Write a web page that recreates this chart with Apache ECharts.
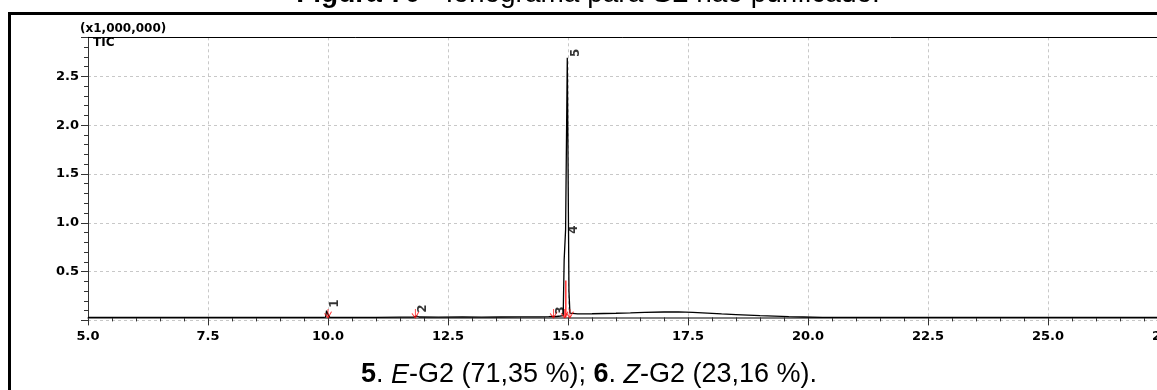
<!DOCTYPE html>
<html>
<head>
<meta charset="utf-8">
<script src="https://cdn.jsdelivr.net/npm/echarts@6/dist/echarts.min.js"></script>
<style>html,body{margin:0;padding:0;background:#fff;}#c{width:1157px;height:390px;}</style>
</head>
<body>
<div id="c"></div>
<script>
// Retention time (min) and TIC intensity (x1,000,000)
var times = [5.0, 6.0, 7.0, 8.0, 9.0, 9.9, 9.95, 9.97, 10.0, 10.04, 10.5, 11.0, 11.5, 11.78, 11.82, 11.85, 11.9, 12.3, 12.8, 13.2, 13.6, 14.0, 14.4, 14.6, 14.68, 14.72, 14.76, 14.84, 14.9, 14.92, 14.935, 14.95, 14.97, 14.985, 15.0, 15.02, 15.04, 15.08, 15.2, 15.5, 16.0, 16.3, 16.6, 17.0, 17.3, 17.6, 18.0, 18.2, 18.5, 19.0, 19.3, 19.6, 19.9, 20.3, 20.6, 22.0, 23.0, 23.5, 24.0, 24.5, 25.0, 27.5];
var tic   = [0.030, 0.030, 0.030, 0.030, 0.030, 0.030, 0.034, 0.100, 0.060, 0.032, 0.030, 0.031, 0.033, 0.034, 0.042, 0.045, 0.035, 0.034, 0.036, 0.034, 0.035, 0.036, 0.037, 0.038, 0.042, 0.045, 0.040, 0.045, 0.050, 0.620, 0.620, 0.930, 0.930, 2.690, 2.690, 0.300, 0.075, 0.066, 0.066, 0.068, 0.073, 0.077, 0.082, 0.086, 0.087, 0.082, 0.072, 0.066, 0.060, 0.048, 0.043, 0.038, 0.035, 0.031, 0.030, 0.030, 0.032, 0.031, 0.032, 0.031, 0.030, 0.030];
var peakNames   = ['1', '2', '3', '4', '5'];
var peakTimes   = [10.0, 11.85, 14.73, 14.96, 15.0];
var peakHeights = [0.10, 0.04, 0.04, 0.93, 2.69];
var markerTimes = [10.0, 11.82, 14.70, 14.93, 15.04];
var xTicks = ['5.0', '7.5', '10.0', '12.5', '15.0', '17.5', '20.0', '22.5', '25.0', '27.5'];
var yTicks = ['0.5', '1.0', '1.5', '2.0', '2.5'];

var lineData = times.map(function (t, i) { return [t, tic[i]]; });
// desired on-screen label shifts [dx, dy]; converted for the 90° rotated label frame
var labelShifts = [[7, -7], [6, -8], [6, -6], [8, 0], [8, -5]];
var peakData = peakTimes.map(function (t, i) {
  var s = labelShifts[i];
  return { value: [t, peakHeights[i]], name: peakNames[i],
           label: { offset: [-s[1], s[0]] } };
});
var markerData = markerTimes.map(function (t) { return [t, 0.03]; });

var axisFont = { fontFamily: 'DejaVu Sans', fontWeight: 'bold', fontSize: 13, color: '#000' };
var chart = echarts.init(document.getElementById('c'));
chart.setOption({
  animation: false,
  backgroundColor: '#fff',
  grid: { left: 88, right: -11, top: 37.3, bottom: 69.6, outerBoundsMode: 'none', containLabel: false },
  xAxis: [{
    type: 'value', min: 5, max: 27.5, interval: 2.5, offset: -3,
    axisLine: { lineStyle: { color: '#555', width: 1.5 } },
    axisTick: { show: true, length: 8, lineStyle: { color: '#333' } },
    minorTick: { show: true, splitNumber: 5, length: 4, lineStyle: { color: '#333' } },
    axisLabel: Object.assign({ margin: 13, formatter: function (v) {
      var s = v.toFixed(1); return xTicks.indexOf(s) >= 0 ? s : ''; } }, axisFont),
    splitLine: { show: true, lineStyle: { color: '#c8c8c8', type: [3, 3] } }
  }, {
    type: 'value', position: 'top', min: 5, max: 27.5,
    axisLine: { show: true, lineStyle: { color: '#000', width: 1 } },
    axisTick: { show: false }, axisLabel: { show: false }, splitLine: { show: false }
  }],
  yAxis: {
    type: 'value', min: 0, max: 2.9, interval: 0.5,
    name: '(x1,000,000)', nameLocation: 'end', nameGap: 2,
    nameTextStyle: { align: 'left', padding: [0, 0, 0, -8], fontFamily: 'DejaVu Sans', fontWeight: 'bold', fontSize: 12, color: '#000' },
    axisLine: { show: true, lineStyle: { color: '#333', width: 1 } },
    axisTick: { show: true, length: 7, lineStyle: { color: '#333' } },
    minorTick: { show: true, splitNumber: 5, length: 4, lineStyle: { color: '#333' } },
    axisLabel: Object.assign({ margin: 9, formatter: function (v) {
      var s = v.toFixed(1); return yTicks.indexOf(s) >= 0 ? s : ''; } }, axisFont),
    splitLine: { show: true, lineStyle: { color: '#c8c8c8', type: [3, 3] } }
  },
  series: [{
    type: 'line', data: lineData, showSymbol: false, symbol: 'none',
    lineStyle: { color: '#000', width: 1.3 }, z: 3
  }, {
    type: 'line', data: [[14.955, 0.03], [14.955, 0.41]], symbol: 'none',
    lineStyle: { color: '#ff0000', width: 1.2 }, z: 4
  }, {
    type: 'scatter', data: markerData, symbol: 'path://M6,0 L6,10 M1,5 L6,10 L11,3',
    symbolSize: [7, 9], symbolOffset: [0, -4],
    itemStyle: { color: 'rgba(0,0,0,0)', borderColor: '#ff0000', borderWidth: 1 }, z: 5
  }, {
    type: 'scatter', data: peakData, symbolSize: 0,
    label: { show: true, position: 'inside', rotate: 90, formatter: '{b}',
             fontFamily: 'DejaVu Sans', fontWeight: 'bold', fontSize: 12, color: '#000' },
    z: 6
  }],
  graphic: [
    { type: 'line', shape: { x1: 8, y1: 13.5, x2: 1157, y2: 13.5 }, style: { stroke: '#000', lineWidth: 3 } },
    { type: 'line', shape: { x1: 9.5, y1: 12, x2: 9.5, y2: 390 }, style: { stroke: '#000', lineWidth: 3 } },
    { type: 'text', x: 93, y: 43, style: { text: 'TIC', font: 'bold 12px "DejaVu Sans"', fill: '#000', verticalAlign: 'middle' } },
    { type: 'text', x: 588, y: -6, style: {
        text: '{b|Figura 70} - Ionograma para {b|G2} não purificado.',
        font: '28px "Liberation Sans"', fill: '#000', align: 'center', verticalAlign: 'middle',
        rich: { b: { fontWeight: 'bold', fontSize: 28, fontFamily: 'Liberation Sans' } } } },
    { type: 'text', x: 589, y: 375, style: {
        text: '{b|5}. {i|E}-G2 (71,35 %); {b|6}. {i|Z}-G2 (23,16 %).',
        font: '27px "Liberation Sans"', fill: '#000', align: 'center', verticalAlign: 'middle',
        rich: { b: { fontWeight: 'bold', fontSize: 27, fontFamily: 'Liberation Sans' },
                i: { fontStyle: 'italic', fontSize: 27, fontFamily: 'Liberation Sans' } } } }
  ]
});
</script>
</body>
</html>
